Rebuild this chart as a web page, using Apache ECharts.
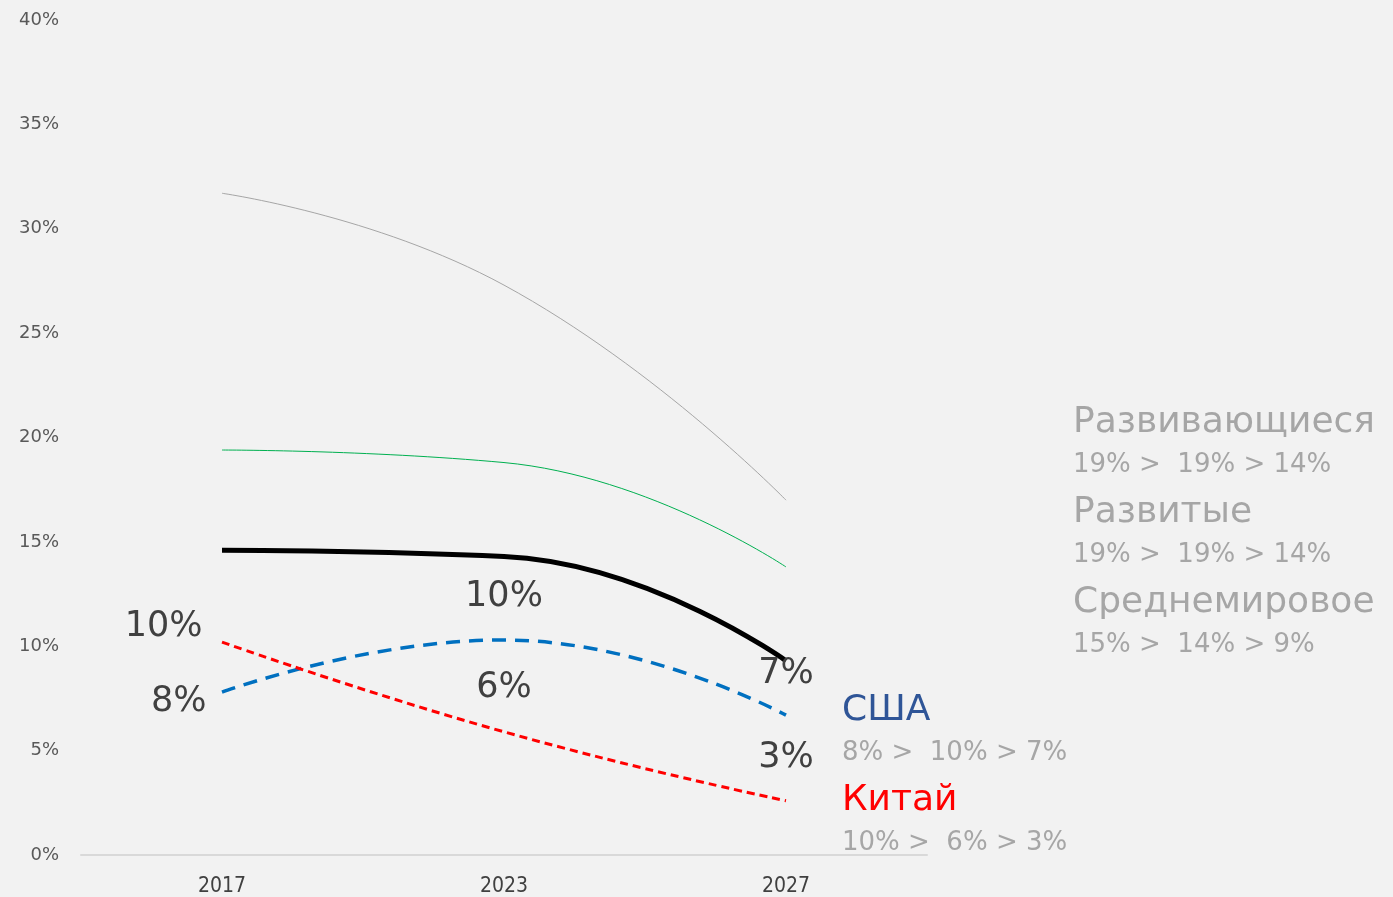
<!DOCTYPE html>
<html>
<head>
<meta charset="utf-8">
<script src="https://cdn.jsdelivr.net/npm/echarts@6/dist/echarts.min.js"></script>
<style>
html,body{margin:0;padding:0;background:#F2F2F2;}
#chart{width:1393px;height:897px;}
</style>
</head>
<body>
<div id="chart"></div>
<script>
var years = ['2017', '2023', '2027'];
var developing = [31.7, 27.3, 17.0];
var developed = [19.4, 18.8, 13.8];
var world = [14.6, 14.3, 9.3];
var usa = [7.8, 10.3, 6.7];
var china = [10.2, 5.9, 2.6];
var yTicks = [0, 5, 10, 15, 20, 25, 30, 35, 40];

// подписи справа
var noteTitles = ['Развивающиеся', 'Развитые', 'Среднемировое', 'США', 'Китай'];
var noteLines = ['19% >  19% > 14%', '19% >  19% > 14%', '15% >  14% > 9%', '8% >  10% > 7%', '10% >  6% > 3%'];
var noteColors = ['#A6A6A6', '#A6A6A6', '#A6A6A6', '#2F5597', '#FF0000'];
var noteX = [1073, 1073, 1073, 842, 842];
var noteY = [422, 512, 602, 710, 800];

var chart = echarts.init(document.getElementById('chart'));

function pct(p){ return Math.round(p.value) + '%'; }

var labelBase = {
	show: true,
	formatter: pct,
	fontSize: 35,
	color: '#404040',
	fontFamily: 'DejaVu Sans'
};

function labels(arr, cfg){
	return arr.map(function(v, i){
		return {value: v, label: cfg[i] ? Object.assign({}, labelBase, cfg[i]) : {show: false}};
	});
}

var hidden = {color: 'transparent', borderWidth: 0};

var graphics = [];
noteTitles.forEach(function(t, i){
	graphics.push({
		type: 'text', left: noteX[i], top: noteY[i] - 17,
		style: {text: t, fill: noteColors[i], font: '36px "DejaVu Sans"'}
	});
	graphics.push({
		type: 'text', left: noteX[i], top: noteY[i] + 30,
		style: {text: noteLines[i], fill: '#A6A6A6', font: '26px "DejaVu Sans"'}
	});
});

chart.setOption({
	backgroundColor: '#F2F2F2',
	animation: false,
	grid: {left: 81, right: 466, top: 20, bottom: 42},
	xAxis: {
		type: 'category',
		data: years,
		boundaryGap: true,
		axisLine: {lineStyle: {color: '#D9D9D9', width: 2}},
		axisTick: {show: false},
		axisLabel: {margin: 21, fontSize: 21, color: '#404040', fontFamily: 'DejaVu Sans Condensed'}
	},
	yAxis: {
		type: 'value',
		min: yTicks[0],
		max: yTicks[yTicks.length - 1],
		interval: 5,
		splitLine: {show: false},
		axisLine: {show: false},
		axisTick: {show: false},
		axisLabel: {margin: 22, fontSize: 18, color: '#595959', fontFamily: 'DejaVu Sans', formatter: '{value}%'}
	},
	series: [
		{
			type: 'line', smooth: 0.5, data: developing, showSymbol: false,
			lineStyle: {color: '#A6A6A6', width: 1}
		},
		{
			type: 'line', smooth: 0.5, data: developed, showSymbol: false,
			lineStyle: {color: '#00B050', width: 1}
		},
		{
			type: 'line', smooth: 0.5, data: world, showSymbol: false,
			lineStyle: {color: '#000000', width: 5}
		},
		{
			type: 'line', smooth: 0.5, symbol: 'circle', symbolSize: 1, itemStyle: hidden,
			data: labels(usa, [
				{position: 'left', offset: [-10, 10], distance: 5},
				{position: 'top', distance: 25},
				{position: 'top', distance: 23}
			]),
			lineStyle: {color: '#0070C0', width: 3.5, type: [14, 9]}
		},
		{
			type: 'line', smooth: 0.5, symbol: 'circle', symbolSize: 1, itemStyle: hidden,
			data: labels(china, [
				{position: 'left', offset: [-14, -15], distance: 5},
				{position: 'top', distance: 26},
				{position: 'top', distance: 25}
			]),
			lineStyle: {color: '#FF0000', width: 3, type: [8, 5]}
		}
	],
	graphic: graphics
});
</script>
</body>
</html>
